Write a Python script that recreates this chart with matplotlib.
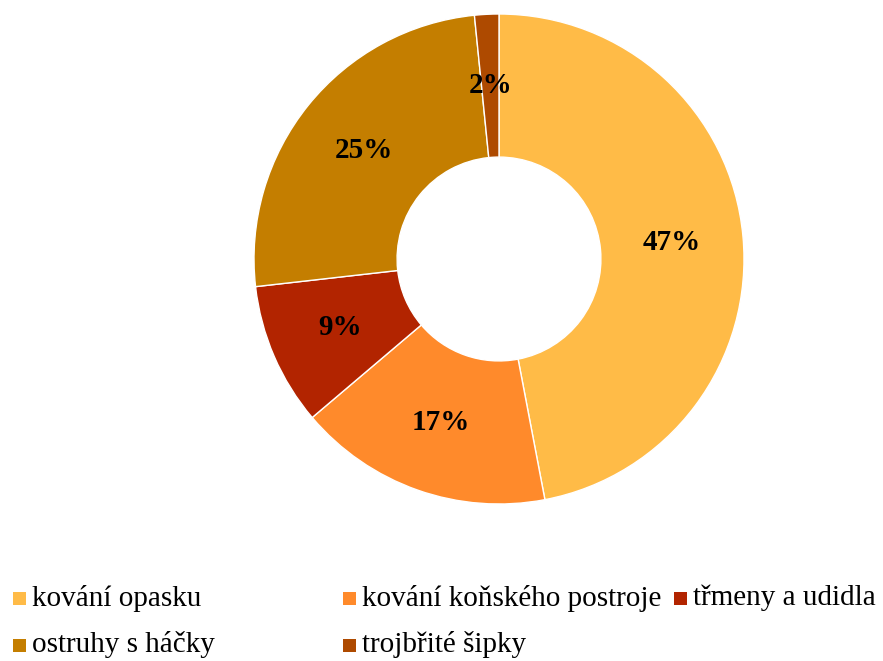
import matplotlib.pyplot as plt
from matplotlib.patches import Rectangle

plt.rcParams["font.family"] = ["Liberation Serif", "DejaVu Serif"]

categories = [
    "kování opasku",
    "kování koňského postroje",
    "třmeny a udidla",
    "ostruhy s háčky",
    "trojbřité šipky",
]
shares = [47.0, 16.8, 9.4, 25.2, 1.6]
colors = ["#FFBB47", "#FF8A2B", "#B22400", "#C47E00", "#AE4A00"]

W, H = 883, 661
fig = plt.figure(figsize=(W / 100, H / 100), dpi=100)

# ring centre (499, 259) px, outer radius 245 px
cx, cy, r = 499, 259, 245
ax = fig.add_axes([(cx - r) / W, (H - cy - r) / H, 2 * r / W, 2 * r / H])
wedges, _, autotexts = ax.pie(
    shares,
    colors=colors,
    startangle=90,
    counterclock=False,
    radius=1.0,
    autopct="%.0f%%",
    pctdistance=0.708,
    wedgeprops={"width": 0.584, "edgecolor": "white", "linewidth": 1.0},
    textprops={"fontsize": 21, "fontweight": "bold", "color": "black"},
)
ax.set_xlim(-1, 1)
ax.set_ylim(-1, 1)
ax.set_aspect("equal")
ax.axis("off")

# legend laid out like the original (fixed column slots)
slots = [(13, 598), (343, 598), (674, 598), (13, 645), (343, 645)]
sq = 13
for (x, y), lab, col in zip(slots, categories, colors):
    fig.patches.append(Rectangle((x / W, (H - y - sq / 2) / H), sq / W, sq / H,
                                 transform=fig.transFigure, facecolor=col, edgecolor="none"))
    fig.text((x + sq + 6) / W, (H - y) / H, lab, fontsize=21, va="center", ha="left")

fig.savefig("out.png", dpi=100)
